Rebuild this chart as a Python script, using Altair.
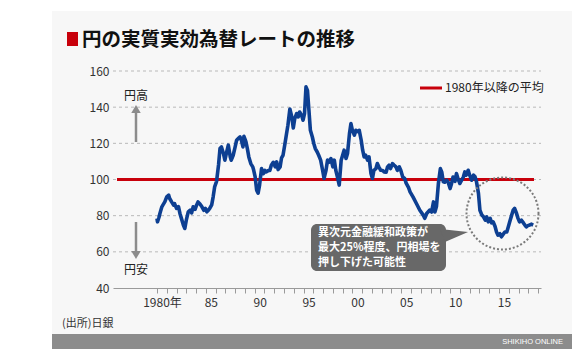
import altair as alt
import pandas as pd

# ---- data ----
years = [1980.0, 1980.05, 1980.2, 1980.3, 1980.5, 1980.6, 1980.8, 1981.0, 1981.2, 1981.3, 1981.5, 1981.7, 1981.8,
         1982.0, 1982.2, 1982.35, 1982.5, 1982.7, 1982.85, 1983.0, 1983.2, 1983.4, 1983.55, 1983.7, 1983.9,
         1984.05, 1984.2, 1984.4, 1984.6, 1984.8, 1984.95, 1985.1, 1985.25, 1985.4, 1985.6, 1985.75, 1985.9,
         1986.1, 1986.3, 1986.45, 1986.6, 1986.8, 1986.95, 1987.1, 1987.3, 1987.5, 1987.6, 1987.8, 1988.0,
         1988.15, 1988.3, 1988.5, 1988.65, 1988.8, 1988.9, 1989.1, 1989.25, 1989.4, 1989.6, 1989.8, 1989.9,
         1990.05, 1990.2, 1990.35, 1990.5, 1990.7, 1990.9, 1991.05, 1991.2, 1991.4, 1991.55, 1991.7, 1991.9,
         1992.1, 1992.25, 1992.4, 1992.6, 1992.75, 1992.9, 1993.1, 1993.25, 1993.4, 1993.6, 1993.8, 1993.95,
         1994.1, 1994.3, 1994.45, 1994.6, 1994.8, 1994.95, 1995.1, 1995.25, 1995.4, 1995.55, 1995.7, 1995.9,
         1996.05, 1996.2, 1996.4, 1996.55, 1996.75, 1996.95, 1997.1, 1997.3, 1997.45, 1997.6, 1997.8, 1998.0,
         1998.15, 1998.3, 1998.5, 1998.65, 1998.85, 1999.0, 1999.15, 1999.35, 1999.5, 1999.7, 1999.85, 2000.0,
         2000.2, 2000.35, 2000.5, 2000.7, 2000.9, 2001.05, 2001.2, 2001.35, 2001.55, 2001.7, 2001.9, 2002.05,
         2002.2, 2002.4, 2002.55, 2002.7, 2002.9, 2003.1, 2003.25, 2003.45, 2003.6, 2003.75, 2003.9, 2004.1,
         2004.25, 2004.45, 2004.6, 2004.8, 2004.95, 2005.15, 2005.35, 2005.5, 2005.75, 2005.9, 2006.2, 2006.55,
         2006.9, 2007.25, 2007.4, 2007.6, 2007.9, 2008.1, 2008.3, 2008.45, 2008.6, 2008.8, 2009.0, 2009.15,
         2009.3, 2009.45, 2009.65, 2009.8, 2010.0, 2010.15, 2010.3, 2010.5, 2010.65, 2010.8, 2011.0, 2011.35,
         2011.5, 2011.65, 2011.85, 2012.0, 2012.2, 2012.4, 2012.55, 2012.7, 2012.9, 2013.05, 2013.25, 2013.4,
         2013.6, 2013.75, 2013.9, 2014.1, 2014.25, 2014.4, 2014.6, 2014.75, 2014.9, 2015.1, 2015.25, 2015.4,
         2015.6, 2015.8, 2015.95, 2016.1, 2016.3, 2016.45, 2016.6, 2016.8, 2016.95, 2017.1, 2017.3, 2017.5,
         2017.65, 2017.8, 2017.95, 2018.15, 2018.3, 2018.5]
index_values = [78.5, 76.6, 79.0, 81.2, 84.9, 85.8, 87.6, 90.4, 91.3, 89.5, 87.6, 85.8, 86.7,
                84.0, 85.0, 81.2, 78.5, 74.8, 72.9, 77.5, 82.1, 83.0, 81.5, 84.9, 83.5,
                85.8, 87.6, 86.5, 84.9, 83.0, 84.0, 82.1, 83.0, 84.0, 86.0, 90.4, 95.9,
                99.0, 108.0, 117.1, 118.0, 114.4, 110.7, 114.4, 119.0, 112.5, 110.7, 113.4, 118.0,
                121.7, 122.6, 123.5, 121.5, 118.0, 123.9, 121.0, 117.1, 112.5, 108.8, 107.0, 105.1,
                101.4, 94.1, 92.5, 96.9, 106.0, 103.3, 105.0, 104.2, 105.0, 105.0, 107.9, 109.5,
                107.0, 109.7, 105.5, 107.0, 112.0, 113.4, 119.9, 125.0, 130.0, 139.0, 134.6, 128.5,
                133.7, 136.5, 134.6, 137.3, 135.5, 132.8, 136.5, 151.2, 149.3, 138.3, 127.2, 123.5,
                119.9, 117.1, 115.2, 113.4, 110.7, 105.1, 100.6, 105.1, 110.7, 109.5, 111.6, 107.0,
                110.7, 105.1, 100.6, 96.9, 110.7, 113.4, 116.2, 111.6, 114.4, 125.4, 130.9, 127.2,
                124.5, 127.2, 126.5, 127.2, 121.7, 116.2, 112.5, 113.5, 110.7, 112.5, 103.3, 100.6,
                105.1, 106.0, 108.8, 107.0, 105.1, 105.0, 104.2, 104.0, 107.0, 107.9, 106.0, 108.8,
                108.0, 107.0, 105.1, 107.0, 105.1, 101.4, 100.6, 98.0, 95.5, 93.2, 90.4, 86.7,
                83.0, 80.3, 78.5, 81.2, 83.0, 82.0, 87.6, 82.1, 85.0, 97.8, 106.0, 104.0,
                98.7, 98.5, 99.6, 98.5, 95.0, 97.8, 101.4, 99.0, 103.3, 100.5, 97.8, 101.4,
                104.2, 102.4, 105.1, 102.4, 99.6, 102.4, 101.5, 98.7, 92.3, 83.0, 80.3, 79.5,
                77.5, 79.3, 76.6, 78.5, 76.0, 76.6, 74.0, 71.0, 69.2, 70.0, 68.3, 69.5,
                71.0, 71.0, 73.8, 76.6, 80.3, 83.0, 84.0, 81.2, 78.5, 76.6, 77.5, 76.0,
                74.8, 73.8, 74.5, 74.8, 75.3, 74.8]
average_since_1980 = [100]
y_tick_values = [40, 60, 80, 100, 120, 140, 160]
grid_values = [60, 80, 100, 120, 140, 160]
x_tick_years = list(range(1980, 2020))

title_text = "円の実質実効為替レートの推移"
legend_label = "1980年以降の平均"
note_lines = ["異次元金融緩和政策が", "最大25%程度、円相場を", "押し下げた可能性"]
high_label = "円高"
low_label = "円安"
source_text = "(出所)日銀"
brand_text = "SHIKIHO ONLINE"

# ---- layout ----
L, T = 113, 71          # plot origin on the page
W, H = 428, 217         # plot size
FONT = "Noto Sans CJK JP"


def px(x):
    return x - L


def py(y):
    return y - T


one = pd.DataFrame({"k": [0]})
df = pd.DataFrame({"year": years, "value": index_values})

xscale = alt.Scale(domain=[1975.5, 2019.3], nice=False, zero=False)
yscale = alt.Scale(domain=[40, 160], nice=False, zero=False)
y_axis = alt.Axis(values=y_tick_values, grid=False, domain=False, ticks=False, zindex=2, title=None,
                  labelPadding=4, labelFont=FONT, labelFontSize=12, labelColor="#333333")


def label(text, x, y, size=12, color="#222222", align="left", weight="normal", font=FONT):
    return alt.Chart(one).mark_text(align=align, baseline="middle", font=font, fontSize=size,
                                    fontWeight=weight, color=color).encode(
        x=alt.value(px(x)), y=alt.value(py(y)), text=alt.value(text))


panel = alt.Chart(one).mark_rect(color="#f7f7f7").encode(
    x=alt.value(px(52)), x2=alt.value(px(572)), y=alt.value(py(11)), y2=alt.value(py(334)))

bar = alt.Chart(one).mark_rect(color="#8c8c8c").encode(
    x=alt.value(px(52)), x2=alt.value(px(572)), y=alt.value(py(334)), y2=alt.value(py(349)))

grid = alt.Chart(pd.DataFrame({"value": grid_values})).mark_rule(
    color="#b9b9b9", strokeDash=[3, 3], strokeWidth=1).encode(
    y=alt.Y("value:Q", scale=yscale, axis=y_axis, title=None), x=alt.value(0), x2=alt.value(W))

avg = alt.Chart(pd.DataFrame({"value": average_since_1980})).mark_rule(
    color="#c8000b", strokeWidth=3).encode(
    y=alt.Y("value:Q", scale=yscale, axis=y_axis, title=None),
    x=alt.value(px(117)), x2=alt.value(px(534)))

line = alt.Chart(df).mark_line(color="#0d3f92", strokeWidth=3.6, strokeJoin="round").encode(
    x=alt.X("year:Q", scale=xscale, title=None,
            axis=alt.Axis(values=x_tick_years, grid=False, domainColor="#9a9a9a", domainWidth=1.2,
                          tickColor="#9a9a9a", tickSize=5, tickWidth=1, labelOffset=5, labelPadding=4,
                          labelFlush=False, labelOverlap=False, labelFont=FONT, labelFontSize=12,
                          labelColor="#333333", zindex=2,
                          labelExpr="datum.value == 1980 ? '1980年' : (datum.value % 5 == 0 ? substring(toString(datum.value), 2, 4) : '')")),
    y=alt.Y("value:Q", scale=yscale, axis=y_axis, title=None))

# legend
leg_rule = alt.Chart(one).mark_rule(color="#c8000b", strokeWidth=3).encode(
    x=alt.value(px(420)), x2=alt.value(px(442)), y=alt.value(py(88)))
leg_text = label(legend_label, 445, 88)

# arrows
up_rule = alt.Chart(one).mark_rule(color="#8c8c8c", strokeWidth=2.5).encode(
    x=alt.value(px(136)), y=alt.value(py(110)), y2=alt.value(py(142)))
up_head = alt.Chart(one).mark_point(shape="triangle-up", filled=True, color="#8c8c8c", size=90,
                                    opacity=1).encode(x=alt.value(px(136)), y=alt.value(py(109)))
dn_rule = alt.Chart(one).mark_rule(color="#8c8c8c", strokeWidth=2.5).encode(
    x=alt.value(px(136)), y=alt.value(py(222)), y2=alt.value(py(253)))
dn_head = alt.Chart(one).mark_point(shape="triangle-down", filled=True, color="#8c8c8c", size=90,
                                    opacity=1).encode(x=alt.value(px(136)), y=alt.value(py(255)))
hi_text = label(high_label, 136, 96, align="center")
lo_text = label(low_label, 136, 270, align="center")

# annotation
box = alt.Chart(one).mark_rect(color="#686868", cornerRadius=6).encode(
    x=alt.value(px(311)), x2=alt.value(px(446)), y=alt.value(py(224)), y2=alt.value(py(271)))
pointer = alt.Chart(one).mark_point(shape="M-1,-0.47L0.87,-0.27L-0.67,0.4Z", filled=True,
                                    color="#686868", size=900, opacity=1).encode(
    x=alt.value(px(455)), y=alt.value(py(236)))
note1 = label(note_lines[0], 318, 233, size=11, color="white", weight="bold")
note2 = label(note_lines[1], 318, 248, size=11, color="white", weight="bold")
note3 = label(note_lines[2], 318, 263, size=11, color="white", weight="bold")
circle = alt.Chart(one).mark_point(shape="circle", filled=False, color="#7a7a7a", strokeWidth=2,
                                   strokeDash=[2, 2], size=72 * 72, opacity=1).encode(
    x=alt.value(px(502.5)), y=alt.value(py(213.5)))

# title / footer
title_sq = alt.Chart(one).mark_rect(color="#c8000b").encode(
    x=alt.value(px(67)), x2=alt.value(px(78)), y=alt.value(py(32)), y2=alt.value(py(46)))
title = label(title_text, 82, 39.5, size=19.5, color="#111111", weight="bold")
source = label(source_text, 62, 324, size=11, color="#333333")
brand = label(brand_text, 563, 341.5, size=7.5, color="white", align="right", font="Liberation Sans")

chart = alt.layer(
    panel, bar, grid, avg, line, leg_rule, leg_text, up_rule, up_head, dn_rule, dn_head,
    hi_text, lo_text, circle, box, pointer, note1, note2, note3, title_sq, title, source, brand
).properties(
    width=W, height=H,
    autosize=alt.AutoSizeParams(type="none"),
    padding={"left": L, "top": T, "right": 583 - L - W, "bottom": 352 - T - H},
    background="white",
).configure_view(stroke=None)

chart.save("out.html", embed_options={"renderer": "svg", "actions": False})
